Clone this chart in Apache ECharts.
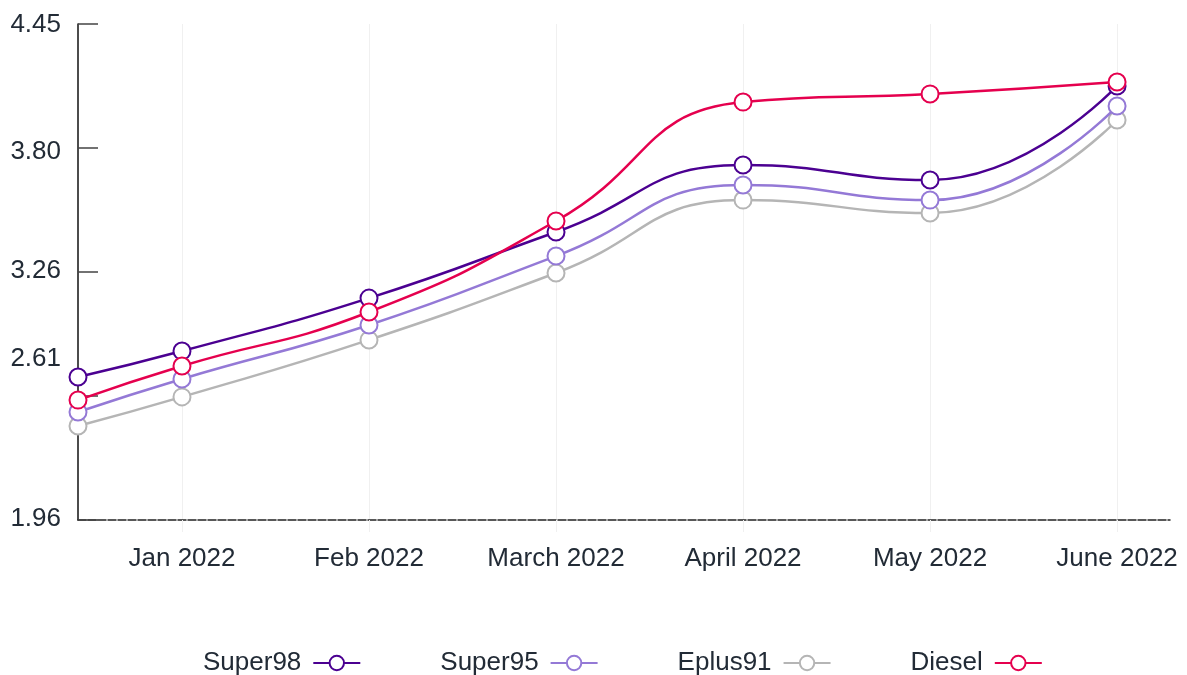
<!DOCTYPE html>
<html>
<head>
<meta charset="utf-8">
<script src="https://cdn.jsdelivr.net/npm/echarts@6/dist/echarts.min.js"></script>
<style>
  html, body { margin: 0; padding: 0; background: #fff; }
  #chart { width: 1187px; height: 675px; }
</style>
</head>
<body>
<div id="chart"></div>
<script>
  // x positions: first point sits on the y axis, then one per month
  var xPos = [0.444, 1, 2, 3, 4, 5, 6]
  var monthTicks = [1, 2, 3, 4, 5, 6]
  var monthLabels = ['Jan 2022', 'Feb 2022', 'March 2022', 'April 2022', 'May 2022', 'June 2022']

  // y axis: evenly spaced ticks, labels as printed on the reference
  var yTickVals = [1.96, 2.5825, 3.205, 3.8275, 4.45]
  var yLabelPos = [1.965, 2.768, 3.21, 3.807, 4.445]
  var yLabels = ['1.96', '2.61', '3.26', '3.80', '4.45']

  var super98 = [2.678, 2.808, 3.074, 3.406, 3.742, 3.667, 4.139]
  var super95 = [2.502, 2.668, 2.939, 3.285, 3.642, 3.566, 4.038]
  var eplus91 = [2.432, 2.578, 2.864, 3.200, 3.566, 3.501, 3.968]
  var diesel = [2.562, 2.733, 3.004, 3.461, 4.058, 4.099, 4.159]

  var names = ['Super98', 'Super95', 'Eplus91', 'Diesel']
  var colors = ['#4b0091', '#9479d6', '#b5b5b5', '#e5004e']
  var zs = [4, 4, 3, 5]

  function pairs(vals) {
    return vals.map(function(v, i) { return [xPos[i], v] })
  }

  var chart = echarts.init(document.getElementById('chart'))
  var fontFam = '"Liberation Sans", Arial, Helvetica, sans-serif'

  chart.setOption({
    animation: false,
    textStyle: { fontFamily: fontFam },
    grid: { left: 78, right: 17, top: 24, bottom: 155 },
    legend: {
      left: 198,
      top: 645,
      align: 'right',
      itemWidth: 47,
      itemHeight: 18,
      itemGap: 79,
      textStyle: { fontSize: 26, color: '#222b36', fontFamily: fontFam, padding: [0, 7, 0, 0] },
      data: names
    },
    xAxis: {
      type: 'value',
      min: 0.444,
      max: 6.283,
      axisLine: { show: true, lineStyle: { color: '#222', width: 1.5, type: [8, 2] } },
      axisTick: {
        show: true,
        customValues: monthTicks,
        length: 12,
        lineStyle: { color: '#f0f0f0' }
      },
      splitLine: { show: false },
      axisLabel: {
        customValues: monthTicks,
        margin: 26,
        fontSize: 26,
        color: '#222b36',
        fontFamily: fontFam,
        formatter: function(v) {
          return monthLabels[Math.round(v) - 1] || ''
        }
      }
    },
    yAxis: {
      type: 'value',
      min: 1.96,
      max: 4.45,
      axisLine: { show: true, lineStyle: { color: '#111', width: 1.5 } },
      axisTick: {
        show: true,
        inside: true,
        length: 20,
        customValues: yTickVals,
        lineStyle: { color: '#444', width: 1.5 }
      },
      splitLine: { show: false },
      axisLabel: {
        customValues: yLabelPos,
        margin: 17,
        fontSize: 26,
        color: '#222b36',
        fontFamily: fontFam,
        formatter: function(v) {
          var best = 0
          yLabelPos.forEach(function(p, i) {
            if (Math.abs(p - v) < Math.abs(yLabelPos[best] - v)) best = i
          })
          return yLabels[best]
        }
      }
    },
    series: [{
      // faint vertical month guides, kept under the lines
      type: 'line',
      data: [],
      silent: true,
      z: 0,
      zlevel: 0,
      markLine: {
        symbol: 'none',
        silent: true,
        z: 0,
        label: { show: false },
        lineStyle: { color: '#f0f0f0', type: 'solid', width: 1 },
        data: monthTicks.map(function(m) { return { xAxis: m } })
      }
    }].concat([super98, super95, eplus91, diesel].map(function(vals, i) {
      return {
        name: names[i],
        type: 'line',
        data: pairs(vals),
        smooth: 0.5,
        clip: false,
        z: zs[i],
        symbol: 'emptyCircle',
        symbolSize: 17,
        lineStyle: { color: colors[i], width: 2.5 },
        itemStyle: { color: colors[i], borderColor: colors[i], borderWidth: 2.5 }
      }
    }))
  })
</script>
</body>
</html>
